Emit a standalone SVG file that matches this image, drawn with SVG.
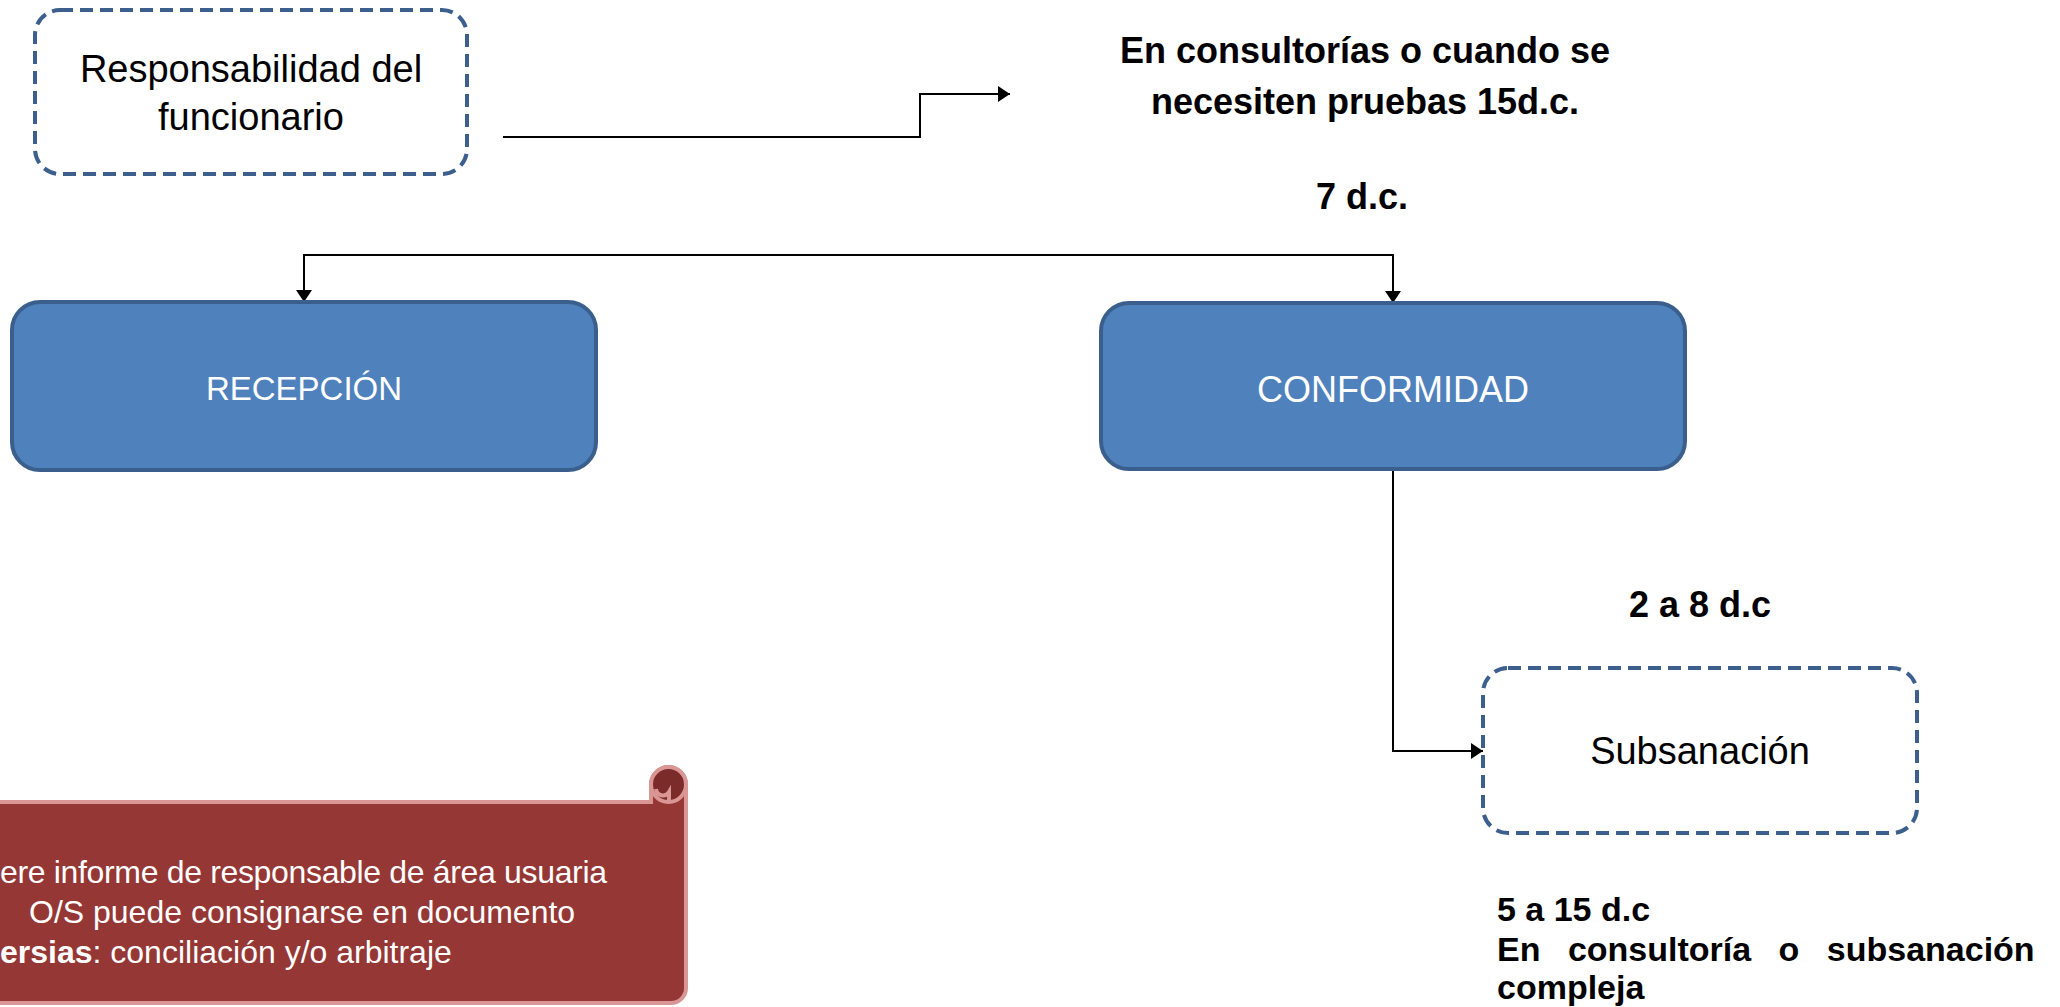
<svg xmlns="http://www.w3.org/2000/svg" width="2060" height="1007" viewBox="0 0 2060 1007">
<style>
  .t { font-family: "Liberation Sans", Arial, sans-serif; }
  .reg { font-size: 38px; fill: #000; }
  .blue { fill: #4F81BD; stroke: #3B5F8C; stroke-width: 4; }
  .dash { fill: #fff; stroke: #3C5F8D; stroke-width: 4; stroke-dasharray: 13 7; }
  .boxlabel { font-size: 33px; fill: #fff; }
  .bold { font-size: 36px; font-weight: bold; fill: #000; }
  .note { font-size: 34px; font-weight: bold; fill: #000; }
  .scroll { fill: #953735; stroke: #D99694; stroke-width: 4; }
  .scrolltext { font-size: 32px; fill: #fff; }
  .conn { fill: none; stroke: #000; stroke-width: 2; }
</style>
<defs>
  <marker id="arrow" viewBox="0 0 12 16" refX="12" refY="8" markerWidth="13" markerHeight="16" markerUnits="userSpaceOnUse" orient="auto-start-reverse">
    <path d="M0 0 L12 8 L0 16 Z" fill="#000"/>
  </marker>
</defs>
<rect width="2060" height="1007" fill="#fff"/>

<g id="connectors">
  <path class="conn" d="M503 137 L920 137 L920 94 L1010 94" marker-end="url(#arrow)"/>
  <path class="conn" d="M304 302 L304 255 L1393 255 L1393 303" marker-start="url(#arrow)" marker-end="url(#arrow)"/>
  <path class="conn" d="M1393 469 L1393 751 L1483 751" marker-end="url(#arrow)"/>
</g>

<g id="responsabilidad">
  <rect class="dash" x="35" y="10" width="432" height="164" rx="25"/>
  <text class="t reg" x="251" y="82" text-anchor="middle">Responsabilidad del</text>
  <text class="t reg" x="251" y="130" text-anchor="middle">funcionario</text>
</g>

<g id="label-consultorias">
  <text class="t bold" x="1365" y="63" text-anchor="middle">En consultorías o cuando se</text>
  <text class="t bold" x="1365" y="114" text-anchor="middle">necesiten pruebas 15d.c.</text>
</g>

<g id="label-7dc">
  <text class="t bold" x="1362" y="209" text-anchor="middle">7 d.c.</text>
</g>

<g id="recepcion">
  <rect class="blue" x="12" y="302" width="584" height="168" rx="28"/>
  <text class="t boxlabel" x="304" y="400" text-anchor="middle">RECEPCIÓN</text>
</g>

<g id="conformidad">
  <rect class="blue" x="1101" y="303" width="584" height="166" rx="28"/>
  <text class="t boxlabel" x="1393" y="402" text-anchor="middle" style="font-size:36px">CONFORMIDAD</text>
</g>

<g id="label-2a8">
  <text class="t bold" x="1700" y="617" text-anchor="middle">2 a 8 d.c</text>
</g>

<g id="subsanacion">
  <rect class="dash" x="1483" y="668" width="434" height="165" rx="25"/>
  <text class="t reg" x="1700" y="764" text-anchor="middle">Subsanación</text>
</g>

<g id="label-5a15">
  <text class="t note" x="1497" y="921">5 a 15 d.c</text>
  <text class="t note" x="1497" y="961" word-spacing="18">En consultoría o subsanación</text>
  <text class="t note" x="1497" y="999">compleja</text>
</g>

<g id="scroll-note">
  <path class="scroll" d="M-40 802 L651 802 L651 784.5 A17.5 17.5 0 0 1 686 784.5 L686 988 A15 15 0 0 1 671 1003 L-40 1003 Z"/>
  <circle cx="668.5" cy="784.5" r="17.5" fill="#7B2C2A" stroke="#D99694" stroke-width="4"/>
  <path d="M656 789 A7 7 0 0 0 669 792 L669 802" fill="none" stroke="#D99694" stroke-width="4"/>
  <text class="t scrolltext" x="0" y="883" textLength="607" lengthAdjust="spacing">ere informe de responsable de área usuaria</text>
  <text class="t scrolltext" x="29" y="923">O/S puede consignarse en documento</text>
  <text class="t scrolltext" x="0" y="963"><tspan font-weight="bold">ersias</tspan>: conciliación y/o arbitraje</text>
</g>
</svg>
